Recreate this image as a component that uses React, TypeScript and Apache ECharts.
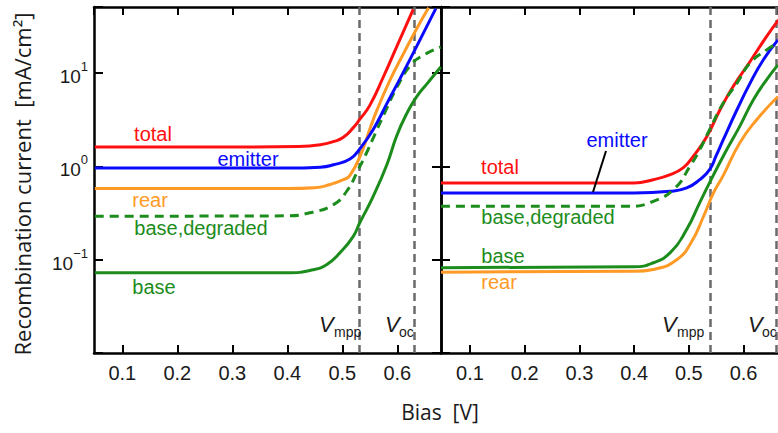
import React, { useEffect, useRef } from "react";
import * as echarts from "echarts";

// ---------- data ----------
// Left panel
const TOTAL_L_V = [0.05, 0.3, 0.42, 0.46, 0.485, 0.502, 0.52, 0.532, 0.55, 0.575, 0.599, 0.629];
const TOTAL_L_J = [1.61, 1.61, 1.63, 1.7, 1.85, 2.05, 2.6, 3.2, 4.5, 9.18, 19.2, 48];
const EMITTER_L_V = [0.05, 0.4, 0.46, 0.484, 0.514, 0.532, 0.556, 0.581, 0.605, 0.635, 0.67];
const EMITTER_L_J = [0.96, 0.96, 0.98, 1.04, 1.2, 1.55, 2.47, 4.7, 8.7, 19.2, 49];
const REAR_L_V = [0.05, 0.4, 0.45, 0.478, 0.502, 0.514, 0.535, 0.55, 0.563, 0.587, 0.611, 0.635, 0.657];
const REAR_L_J = [0.578, 0.578, 0.59, 0.64, 0.72, 0.8, 1.4, 2.5, 4.0, 8.45, 16, 29.7, 50];
const DEG_L_V = [0.05, 0.4, 0.441, 0.484, 0.508, 0.529, 0.544, 0.556, 0.581, 0.599, 0.625, 0.65, 0.679];
const DEG_L_J = [0.292, 0.295, 0.318, 0.389, 0.541, 0.92, 1.39, 2.0, 4.2, 7.0, 12.3, 15.8, 19];
const BASE_L_V = [0.05, 0.4, 0.447, 0.472, 0.496, 0.52, 0.532, 0.556, 0.581, 0.599, 0.617, 0.635, 0.657, 0.679];
const BASE_L_J = [0.0724, 0.0724, 0.078, 0.089, 0.119, 0.178, 0.25, 0.474, 1.04, 2.13, 3.66, 5.56, 8.05, 11.6];

// Right panel
const TOTAL_R_V = [0.047, 0.4, 0.435, 0.466, 0.49, 0.508, 0.533, 0.557, 0.581, 0.612, 0.642, 0.664];
const TOTAL_R_J = [0.664, 0.664, 0.72, 0.815, 0.968, 1.28, 2.09, 4.04, 7.17, 13.3, 24.6, 37.1];
const EMITTER_R_V = [0.047, 0.4, 0.466, 0.496, 0.52, 0.538, 0.55, 0.563, 0.588, 0.612, 0.636, 0.663];
const EMITTER_R_J = [0.519, 0.519, 0.541, 0.587, 0.721, 0.922, 1.3, 1.93, 4.04, 7.8, 13.8, 22.6];
const BASE_R_V = [0.047, 0.4, 0.435, 0.466, 0.496, 0.52, 0.538, 0.566, 0.593, 0.618, 0.642, 0.663];
const BASE_R_J = [0.082, 0.084, 0.0927, 0.119, 0.21, 0.409, 0.67, 1.39, 2.68, 5.17, 8.45, 12.2];
const REAR_R_V = [0.047, 0.4, 0.435, 0.478, 0.504, 0.527, 0.545, 0.563, 0.593, 0.624, 0.663];
const REAR_R_J = [0.0735, 0.075, 0.0786, 0.1, 0.152, 0.292, 0.519, 0.8, 1.78, 3.16, 5.61];
const DEG_R_V = [0.047, 0.392, 0.435, 0.475, 0.502, 0.52, 0.538, 0.563, 0.588, 0.612, 0.642, 0.663];
const DEG_R_J = [0.373, 0.373, 0.422, 0.587, 1.0, 1.51, 2.47, 4.77, 7.8, 12.8, 17.7, 20.9];

// Reference voltages
const VMPP_L = 0.534;
const VOC_L = 0.632;
const VMPP_R = 0.537;
const VOC_R = 0.66;

// Axis ranges
const X_RANGE_L = [0.0485, 0.6795];
const X_RANGE_R = [0.047, 0.663];
const Y_RANGE = [0.01, 51];

// ---------- styling ----------
const FONT = '"Liberation Sans", Arial, sans-serif';
const TITLE_FONT = '"Open Sans", "Noto Sans", sans-serif';
const RED = "#ff1010";
const BLUE = "#0a0aff";
const ORANGE = "#ff9a26";
const GREEN = "#1c8c1c";
const DASH_GREY = "#6a6a6a";

const pairs = (v: number[], j: number[]) => v.map((x, i) => [x, j[i]]);

function xAxis(gridIndex: number, range: number[], position: "bottom" | "top", labels: boolean) {
  return {
    type: "value",
    gridIndex,
    position,
    min: range[0],
    max: range[1],
    splitNumber: 6,
    axisLine: { show: true, onZero: false, lineStyle: { color: "#000", width: 2.5 } },
    axisTick: { show: true, inside: true, length: 8, lineStyle: { color: "#000", width: 2 } },
    axisLabel: {
      show: labels,
      margin: 10,
      color: "#1a1a1a",
      fontSize: 20,
      fontFamily: FONT,
      showMinLabel: false,
      showMaxLabel: false,
      formatter: (v: number) => {
        const k = v * 10;
        return Math.abs(k - Math.round(k)) < 1e-6 ? v.toFixed(1) : "";
      },
    },
    splitLine: { show: false },
  };
}

function yAxis(gridIndex: number, position: "left" | "right", labels: boolean) {
  return {
    type: "log",
    logBase: 10,
    gridIndex,
    position,
    min: Y_RANGE[0],
    max: Y_RANGE[1],
    axisLine: { show: true, onZero: false, lineStyle: { color: "#000", width: 2.5 } },
    axisTick: { show: true, inside: true, length: 9, lineStyle: { color: "#000", width: 2 } },
    minorTick: { show: false },
    splitLine: { show: false },
    axisLabel: {
      show: labels,
      margin: 6,
      color: "#1a1a1a",
      formatter: (v: number) => {
        const l = Math.log10(v);
        const e = Math.round(l);
        if (Math.abs(l - e) > 1e-6 || e < -1 || e > 1) return "";
        const ex = e < 0 ? "\u2212" + -e : String(e);
        return `{b|10}{s|${ex}}`;
      },
      rich: {
        b: { fontSize: 19, fontFamily: FONT, color: "#1a1a1a", lineHeight: 26, verticalAlign: "bottom" },
        s: { fontSize: 13, fontFamily: FONT, color: "#1a1a1a", lineHeight: 13, verticalAlign: "top" },
      },
    },
  };
}

function line(name: string, v: number[], j: number[], color: string, axis: number, dashed = false, markLineVals: number[] | null = null) {
  const s: any = {
    name,
    type: "line",
    xAxisIndex: axis === 0 ? 0 : 2,
    yAxisIndex: axis === 0 ? 0 : 2,
    data: pairs(v, j),
    showSymbol: false,
    smooth: 0.5,
    clip: true,
    z: 3,
    lineStyle: { color, width: 3, type: dashed ? [9, 6] : "solid" },
  };
  if (markLineVals) {
    s.markLine = {
      silent: true,
      symbol: ["none", "none"],
      label: { show: false },
      lineStyle: { color: DASH_GREY, width: 2.5, type: [8, 5] },
      z: 1,
      data: markLineVals.map((x) => ({ xAxis: x })),
    };
  }
  return s;
}

function txt(text: string, x: number, y: number, color: string, size = 20, extra: any = {}) {
  return {
    type: "text",
    x,
    y,
    z: 10,
    style: {
      text,
      fill: color,
      fontSize: size,
      fontFamily: FONT,
      align: "center",
      verticalAlign: "middle",
      ...extra,
    },
  };
}

export default function App() {
  const ref = useRef<HTMLDivElement>(null);
  useEffect(() => {
    if (!ref.current) return;
    const chart = echarts.init(ref.current, null, { renderer: "svg" });
    const option: any = {
      animation: false,
      backgroundColor: "#ffffff",
      grid: [
        { left: 94, top: 7, width: 347, height: 346 },
        { left: 441, top: 7, width: 337, height: 346 },
      ],
      xAxis: [
        xAxis(0, X_RANGE_L, "bottom", true),
        xAxis(0, X_RANGE_L, "top", false),
        xAxis(1, X_RANGE_R, "bottom", true),
        xAxis(1, X_RANGE_R, "top", false),
      ],
      yAxis: [yAxis(0, "left", true), yAxis(0, "right", false), yAxis(1, "left", false)],
      series: [
        line("base,degraded L", DEG_L_V, DEG_L_J, GREEN, 0, true, [VMPP_L, VOC_L]),
        line("base L", BASE_L_V, BASE_L_J, GREEN, 0),
        line("rear L", REAR_L_V, REAR_L_J, ORANGE, 0),
        line("emitter L", EMITTER_L_V, EMITTER_L_J, BLUE, 0),
        line("total L", TOTAL_L_V, TOTAL_L_J, RED, 0),
        line("rear R", REAR_R_V, REAR_R_J, ORANGE, 1, false, [VMPP_R, VOC_R]),
        line("base R", BASE_R_V, BASE_R_J, GREEN, 1),
        line("emitter R", EMITTER_R_V, EMITTER_R_J, BLUE, 1),
        line("total R", TOTAL_R_V, TOTAL_R_J, RED, 1),
        line("base,degraded R", DEG_R_V, DEG_R_J, GREEN, 1, true),
      ],
      graphic: [
        {
          type: "text",
          x: 22,
          y: 184,
          rotation: Math.PI / 2,
          style: {
            text: "Recombination current  [mA/cm\u00b2]",
            fill: "#1a1a1a",
            fontSize: 22,
            fontFamily: TITLE_FONT,
            align: "center",
            verticalAlign: "middle",
          },
        },
        {
          type: "text",
          x: 440,
          y: 412,
          style: {
            text: "Bias  [V]",
            fill: "#1a1a1a",
            fontSize: 21,
            fontFamily: TITLE_FONT,
            align: "center",
            verticalAlign: "middle",
          },
        },
        txt("total", 153, 134, RED),
        txt("emitter", 248, 159, BLUE),
        txt("rear", 150, 200, ORANGE),
        txt("base,degraded", 201, 228, GREEN),
        txt("base", 154, 287, GREEN),
        txt("total", 500, 167, RED),
        txt("emitter", 617, 140, BLUE),
        txt("base,degraded", 548, 217, GREEN),
        txt("base", 503, 256, GREEN),
        txt("rear", 499, 282, ORANGE),
        {
          type: "line",
          z: 10,
          shape: { x1: 606, y1: 151, x2: 593, y2: 192 },
          style: { stroke: "#000", lineWidth: 2 },
        },
        txt("V", 319, 324, "#1a1a1a", 22, { align: "left", fontStyle: "italic" }),
        txt("mpp", 334, 332, "#1a1a1a", 14, { align: "left" }),
        txt("V", 385, 324, "#1a1a1a", 22, { align: "left", fontStyle: "italic" }),
        txt("oc", 399, 332, "#1a1a1a", 14, { align: "left" }),
        txt("V", 662, 324, "#1a1a1a", 22, { align: "left", fontStyle: "italic" }),
        txt("mpp", 677, 332, "#1a1a1a", 14, { align: "left" }),
        txt("V", 748, 324, "#1a1a1a", 22, { align: "left", fontStyle: "italic" }),
        txt("oc", 762, 332, "#1a1a1a", 14, { align: "left" }),
      ],
    };
    chart.setOption(option);
    return () => chart.dispose();
  }, []);
  return <div ref={ref} style={{ width: 778, height: 433, position: "absolute", left: 0, top: 0 }} />;
}
